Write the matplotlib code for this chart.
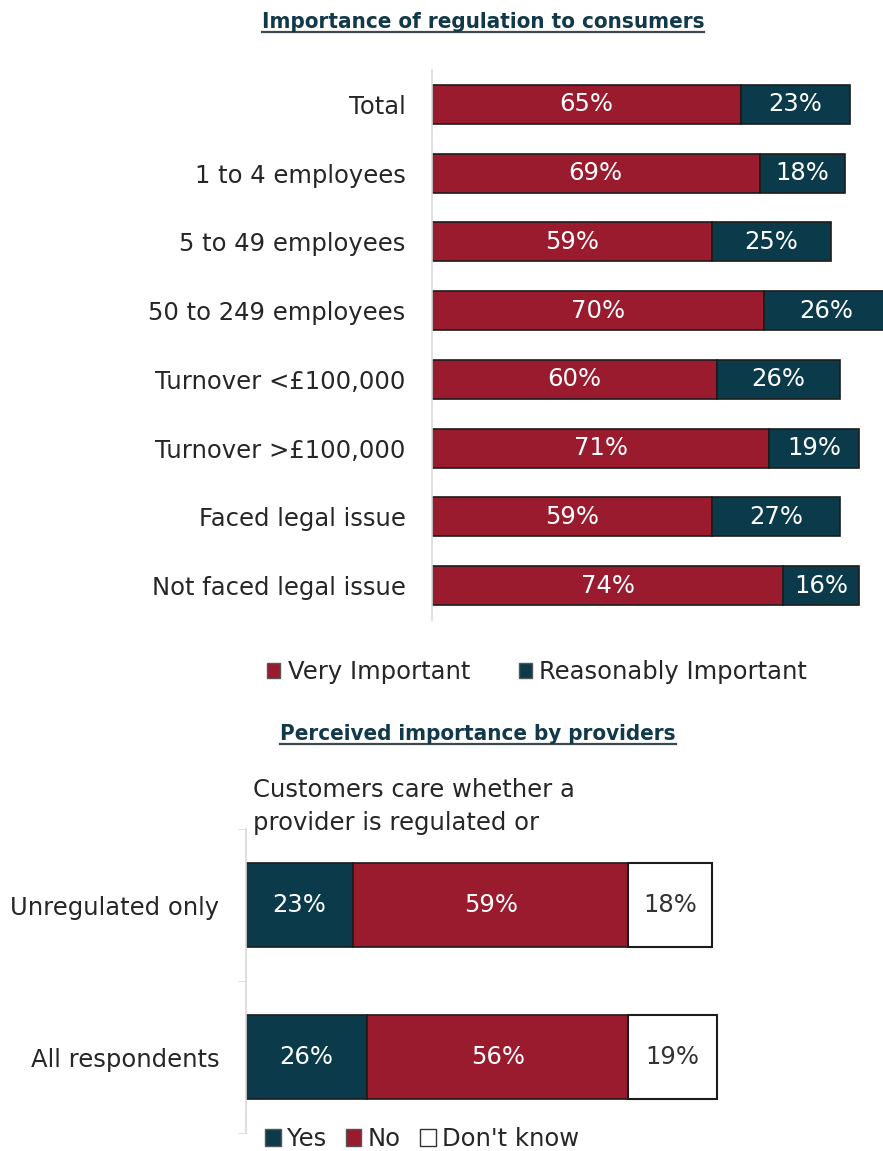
import matplotlib
matplotlib.use("Agg")
import matplotlib.pyplot as plt
from matplotlib.patches import Patch
from matplotlib.lines import Line2D

plt.rcParams['font.family'] = ['DejaVu Sans']

# Importance of regulation to consumers
segments = ['Total', '1 to 4 employees', '5 to 49 employees', '50 to 249 employees',
            'Turnover <£100,000', 'Turnover >£100,000', 'Faced legal issue',
            'Not faced legal issue']
very_important = [65, 69, 59, 70, 60, 71, 59, 74]
reasonably_important = [23, 18, 25, 26, 26, 19, 27, 16]

# Perceived importance by providers
groups = ['Unregulated only', 'All respondents']
yes = [23, 26]
no = [59, 56]
dont_know = [18, 19]

RED = '#9a1a2e'
TEAL = '#0b3b4b'
EDGE = '#1c1c1c'
AXIS_GREY = '#d9d9d9'
TITLE_COL = '#12394a'
FS = 17.5

W, H = 883, 1151
fig = plt.figure(figsize=(W / 100, H / 100), dpi=100)


def fx(px):
    return px / W


def fy(py):
    return 1 - py / H


def style_axis(ax):
    for s in ['top', 'right', 'bottom']:
        ax.spines[s].set_visible(False)
    ax.spines['left'].set_color(AXIS_GREY)
    ax.spines['left'].set_linewidth(1.2)
    ax.set_xticks([])
    ax.tick_params(axis='y', length=0, pad=19, labelsize=FS, labelcolor='#262626')


# top chart
ax1 = fig.add_axes([fx(432), fy(620), 1 - fx(432), fy(70) - fy(620)])
ax1.set_xlim(0, 95)
ax1.set_ylim(7.5, -0.5)
style_axis(ax1)
ypos = range(len(segments))
ax1.barh(ypos, very_important, height=0.57, color=RED, edgecolor=EDGE, linewidth=1.2)
ax1.barh(ypos, reasonably_important, left=very_important, height=0.57, color=TEAL,
         edgecolor=EDGE, linewidth=1.2)
for i, (a, b) in enumerate(zip(very_important, reasonably_important)):
    ax1.text(a / 2, i, f'{a}%', ha='center', va='center', color='white', fontsize=FS)
    ax1.text(a + b / 2, i, f'{b}%', ha='center', va='center', color='white', fontsize=FS,
             clip_on=False)
ax1.set_yticks(list(ypos))
ax1.set_yticklabels(segments)

fig.legend(handles=[Patch(facecolor=RED, edgecolor='#555555', label='Very Important'),
                    Patch(facecolor=TEAL, edgecolor='#555555', label='Reasonably Important')],
           loc='center', bbox_to_anchor=(fx(537), fy(672)), ncol=2, frameon=False,
           fontsize=FS, handlelength=0.55, handleheight=0.55, handletextpad=0.3,
           columnspacing=2.0, labelcolor='#262626')

# bottom chart
ax2 = fig.add_axes([fx(246), fy(1133), fx(466 * 1.01), fy(829) - fy(1133)])
ax2.set_xlim(0, 101)
ax2.set_ylim(1.5, -0.5)
style_axis(ax2)
gpos = range(len(groups))
left_no = yes
left_dk = [a + b for a, b in zip(yes, no)]
ax2.barh(gpos, yes, height=0.55, color=TEAL, edgecolor=EDGE, linewidth=1.2)
ax2.barh(gpos, no, left=left_no, height=0.55, color=RED, edgecolor=EDGE, linewidth=1.2)
dk_bars = ax2.barh(gpos, dont_know, left=left_dk, height=0.55, color='white', edgecolor=EDGE,
                   linewidth=1.5)
for p in dk_bars:
    p.set_clip_on(False)
for i in gpos:
    ax2.text(yes[i] / 2, i, f'{yes[i]}%', ha='center', va='center', color='white', fontsize=FS)
    ax2.text(left_no[i] + no[i] / 2, i, f'{no[i]}%', ha='center', va='center', color='white',
             fontsize=FS)
    ax2.text(left_dk[i] + dont_know[i] / 2, i, f'{dont_know[i]}%', ha='center', va='center',
             color='#333333', fontsize=FS)
ax2.set_yticks(list(gpos))
ax2.set_yticklabels(groups)
ax2.set_yticks([-0.5, 0.5, 1.5], minor=True)
ax2.tick_params(axis='y', which='minor', length=6, color=AXIS_GREY, direction='out')

fig.text(fx(253), fy(797), 'Customers care whether a', fontsize=FS, color='#262626',
         va='baseline')
fig.text(fx(253), fy(830), 'provider is regulated or', fontsize=FS, color='#262626',
         va='baseline')

fig.legend(handles=[Patch(facecolor=TEAL, edgecolor='#555555', label='Yes'),
                    Patch(facecolor=RED, edgecolor='#555555', label='No'),
                    Patch(facecolor='white', edgecolor='#333333', label="Don't know")],
           loc='center', bbox_to_anchor=(fx(422), fy(1139)), ncol=3, frameon=False,
           fontsize=FS, handlelength=0.65, handleheight=0.65, handletextpad=0.25,
           columnspacing=0.8, labelcolor='#262626', borderpad=0)

# underlined section titles
titles = [('Importance of regulation to consumers', 483, 28),
          ('Perceived importance by providers', 478, 740)]
title_texts = []
for label, cx, base in titles:
    t = fig.text(fx(cx), fy(base), label, ha='center', va='baseline', fontsize=16,
                 fontweight='bold', fontstretch='condensed', color=TITLE_COL)
    title_texts.append((t, base))

fig.canvas.draw()
renderer = fig.canvas.get_renderer()
for t, base in title_texts:
    bb = t.get_window_extent(renderer)
    fig.add_artist(Line2D([bb.x0 / W, bb.x1 / W], [fy(base + 4)] * 2, color='#3a4a50',
                          linewidth=1.6, transform=fig.transFigure))

fig.savefig('out.png', dpi=100)
